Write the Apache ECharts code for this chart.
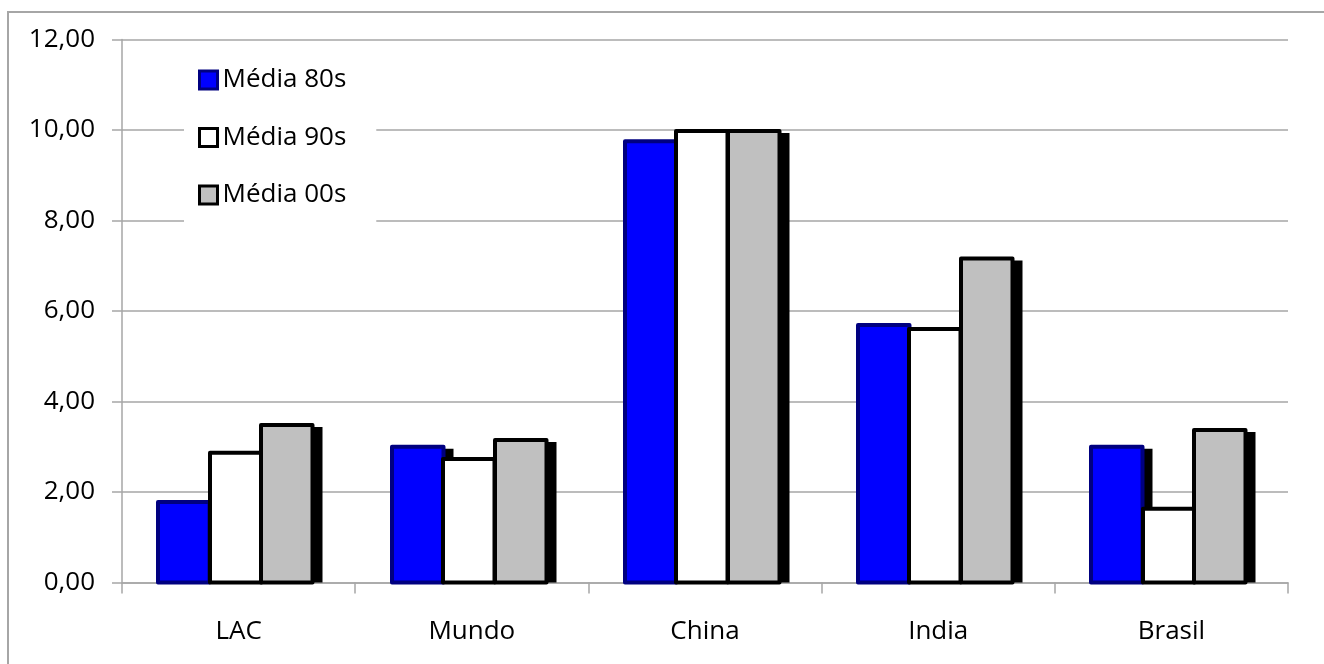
<!DOCTYPE html>
<html>
<head>
<meta charset="utf-8">
<script src="https://cdn.jsdelivr.net/npm/echarts@6/dist/echarts.min.js"></script>
<style>html,body{margin:0;padding:0;background:#fff;}#c{width:1324px;height:664px;}</style>
</head>
<body>
<div id="c"></div>
<script>
var categories = ['LAC', 'Mundo', 'China', 'India', 'Brasil'];
var seriesNames = ['Média 80s', 'Média 90s', 'Média 00s'];
var media80s = [1.78, 3.00, 9.75, 5.69, 3.00];
var media90s = [2.87, 2.73, 9.98, 5.60, 1.63];
var media00s = [3.48, 3.15, 9.98, 7.16, 3.37];
var yTickLabels = ['0,00', '2,00', '4,00', '6,00', '8,00', '10,00', '12,00'];

var FONT = 'Open Sans';
var chart = echarts.init(document.getElementById('c'), null, {renderer: 'canvas'});

var styles = [
  {color: '#0000FF', borderColor: '#000080'},
  {color: '#FFFFFF', borderColor: '#000000'},
  {color: '#C0C0C0', borderColor: '#000000'}
];
var values = [media80s, media90s, media00s];

function makeRender(si) {
  return function (params, api) {
    var cat = api.value(0);
    var val = api.value(1);
    var top = api.coord([cat, val]);
    var base = api.coord([cat, 0]);
    var bw = 51.5;
    var x0 = Math.round(top[0] - 3 - bw * 1.5 + si * bw);
    var y0 = top[1];
    var yb = base[1];
    return {
      type: 'group',
      children: [
        {
          type: 'rect',
          shape: {x: x0 + 6, y: y0 + 2, width: bw + 4, height: Math.max(0, yb - (y0 + 2))},
          style: {fill: '#000000'}
        },
        {
          type: 'rect',
          shape: {x: x0, y: y0, width: bw, height: yb - y0},
          style: {fill: styles[si].color, stroke: styles[si].borderColor, lineWidth: 4, lineJoin: 'round'}
        }
      ]
    };
  };
}

var series = seriesNames.map(function (name, i) {
  return {
    name: name,
    type: 'custom',
    renderItem: makeRender(i),
    encode: {x: 0, y: 1},
    data: values[i].map(function (v, k) { return [k, v]; }),
    itemStyle: {color: styles[i].color, borderColor: styles[i].borderColor, borderWidth: 3},
    emphasis: {disabled: true},
    animation: false,
    z: 2 + i * 0.01
  };
});

chart.setOption({
  animation: false,
  backgroundColor: '#ffffff',
  textStyle: {fontFamily: FONT},
  grid: {left: 122, right: 36, top: 39.5, bottom: 81.5},
  graphic: [{
    type: 'rect',
    shape: {x: 8, y: 12, width: 1400, height: 700},
    style: {fill: 'none', stroke: '#a6a6a6', lineWidth: 2},
    silent: true,
    z: -1
  }],
  legend: {
    orient: 'vertical',
    left: 184,
    top: 57,
    backgroundColor: '#ffffff',
    padding: [10, 30, 18, 14],
    itemGap: 31.5,
    itemWidth: 18,
    itemHeight: 18,
    itemTextGap: 13,
    icon: 'rect',
    textStyle: {fontFamily: FONT, fontSize: 26, color: '#000'},
    data: seriesNames.map(function (n, i) {
      return {
        name: n,
        itemStyle: {
          color: styles[i].color,
          borderColor: styles[i].borderColor,
          borderWidth: 3
        }
      };
    }),
    z: 10
  },
  xAxis: {
    type: 'category',
    data: categories,
    axisLine: {show: true, lineStyle: {color: '#a6a6a6', width: 1.5}},
    axisTick: {show: true, length: 11, lineStyle: {color: '#a6a6a6', width: 1.5}},
    axisLabel: {fontFamily: FONT, fontSize: 26, color: '#000', margin: 36}
  },
  yAxis: {
    type: 'value',
    min: 0,
    max: 12,
    interval: 2,
    axisLine: {show: true, lineStyle: {color: '#a6a6a6', width: 1.5}},
    axisTick: {show: true, length: 10, lineStyle: {color: '#a6a6a6', width: 1.5}},
    splitLine: {show: true, lineStyle: {color: '#a6a6a6', width: 1.5}},
    axisLabel: {
      fontFamily: FONT, fontSize: 26, color: '#000', margin: 27,
      formatter: function (v) { return yTickLabels[Math.round(v / 2)]; }
    }
  },
  series: series
});
</script>
</body>
</html>
